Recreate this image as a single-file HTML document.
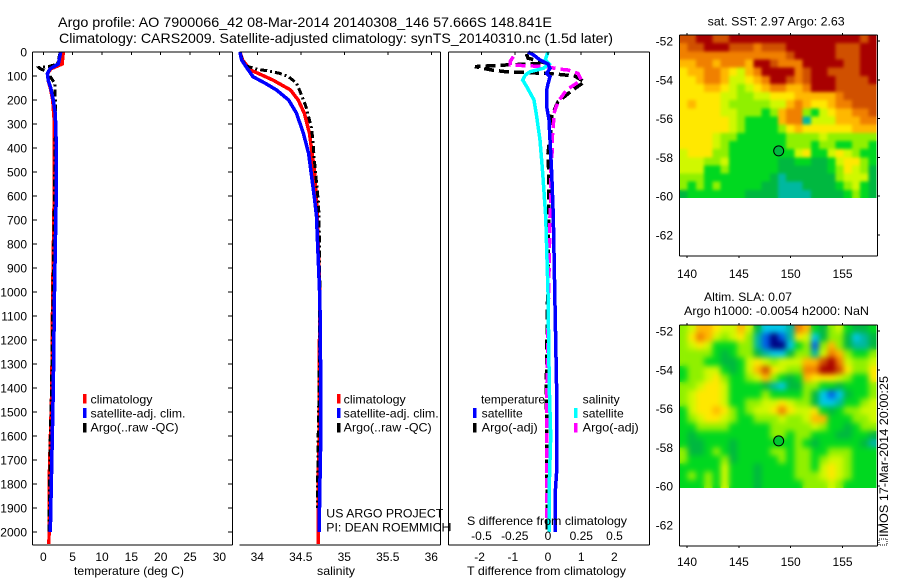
<!DOCTYPE html>
<html>
<head>
<meta charset="utf-8">
<title>Argo profile</title>
<style>
html,body{margin:0;padding:0;background:#fff;width:900px;height:580px;overflow:hidden;}
svg{display:block;font-family:"Liberation Sans",sans-serif;overflow:hidden;}
text{fill:#000;font-size:12px;}
</style>
</head>
<body>
<svg id="chart" xmlns="http://www.w3.org/2000/svg" width="900" height="580" viewBox="0 0 900 580">
<defs>
<filter id="blur-sst" x="660" y="20" width="240" height="200" filterUnits="userSpaceOnUse" color-interpolation-filters="sRGB"><feGaussianBlur stdDeviation="1.6"/></filter>
<filter id="blur-sla" x="660" y="310" width="240" height="200" filterUnits="userSpaceOnUse" color-interpolation-filters="sRGB"><feGaussianBlur stdDeviation="3"/></filter>
<clipPath id="clip-sst"><rect x="679.5" y="35" width="197" height="163"/></clipPath>
<clipPath id="clip-sla"><rect x="679.5" y="325" width="197" height="163"/></clipPath>
</defs>
<rect x="0" y="0" width="900" height="580" fill="#fff"/>
<g id="maps"></g>
<g id="series"></g>
<g id="axes"></g>

<text x="58" y="27" textLength="494" lengthAdjust="spacingAndGlyphs" style="font-size:14px">Argo profile: AO 7900066_42 08-Mar-2014 20140308_146 57.666S 148.841E</text>
<text x="59" y="43" textLength="554" lengthAdjust="spacingAndGlyphs" style="font-size:14px">Climatology: CARS2009. Satellite-adjusted climatology: synTS_20140310.nc (1.5d later)</text>

<text x="74" y="575" textLength="110" lengthAdjust="spacingAndGlyphs">temperature (deg C)</text>
<text x="317" y="575" textLength="38" lengthAdjust="spacingAndGlyphs">salinity</text>
<text x="467" y="575" textLength="159" lengthAdjust="spacingAndGlyphs">T difference from climatology</text>
<text x="467" y="525" textLength="160" lengthAdjust="spacingAndGlyphs">S difference from climatology</text>

<g>
<rect x="83" y="394" width="3.5" height="9.5" fill="#f00"/>
<rect x="83" y="408" width="3.5" height="10" fill="#00f"/>
<rect x="83" y="423" width="3.5" height="9.5" fill="#000"/>
<text x="90.5" y="403.5" textLength="62" lengthAdjust="spacingAndGlyphs">climatology</text>
<text x="90.5" y="417.5" textLength="95" lengthAdjust="spacingAndGlyphs">satellite-adj. clim.</text>
<text x="90.5" y="431.5" textLength="88" lengthAdjust="spacingAndGlyphs">Argo(..raw -QC)</text>
</g>
<g>
<rect x="337" y="394" width="3.5" height="9.5" fill="#f00"/>
<rect x="337" y="408" width="3.5" height="10" fill="#00f"/>
<rect x="337" y="423" width="3.5" height="9.5" fill="#000"/>
<text x="343.7" y="403.5" textLength="62" lengthAdjust="spacingAndGlyphs">climatology</text>
<text x="343.7" y="417.5" textLength="95" lengthAdjust="spacingAndGlyphs">satellite-adj. clim.</text>
<text x="343.7" y="431.5" textLength="88" lengthAdjust="spacingAndGlyphs">Argo(..raw -QC)</text>
</g>
<text x="326.3" y="517.7" textLength="117" lengthAdjust="spacingAndGlyphs">US ARGO PROJECT</text>
<text x="326.3" y="531.7" textLength="124" lengthAdjust="spacingAndGlyphs">PI: DEAN ROEMMICH</text>

<g>
<text x="481" y="403.5" textLength="64" lengthAdjust="spacingAndGlyphs">temperature</text>
<rect x="473" y="408" width="3.5" height="10" fill="#00f"/>
<text x="481.7" y="417.5" textLength="41" lengthAdjust="spacingAndGlyphs">satellite</text>
<rect x="473" y="423" width="3.5" height="9.5" fill="#000"/>
<text x="481.7" y="431.5" textLength="56" lengthAdjust="spacingAndGlyphs">Argo(-adj)</text>
<text x="582.7" y="403.5" textLength="37" lengthAdjust="spacingAndGlyphs">salinity</text>
<rect x="574" y="408" width="3.5" height="10" fill="#0ff"/>
<text x="582.7" y="417.5" textLength="41" lengthAdjust="spacingAndGlyphs">satellite</text>
<rect x="574" y="423" width="3.5" height="9.5" fill="#f0f"/>
<text x="582.7" y="431.5" textLength="56" lengthAdjust="spacingAndGlyphs">Argo(-adj)</text>
</g>

<text x="707.7" y="25.7" textLength="137" lengthAdjust="spacingAndGlyphs">sat. SST: 2.97 Argo: 2.63</text>
<text x="704" y="301" textLength="88" lengthAdjust="spacingAndGlyphs">Altim. SLA: 0.07</text>
<text x="684" y="315" textLength="185" lengthAdjust="spacingAndGlyphs">Argo h1000: -0.0054 h2000: NaN</text>
<rect x="879" y="539" width="8" height="6" fill="none" stroke="#000" stroke-width="1" stroke-dasharray="1 1"/>
<text transform="translate(888,537) rotate(-90)" x="0" y="0" textLength="161" lengthAdjust="spacingAndGlyphs">IMOS 17-Mar-2014 20:00:25</text>
</svg>

<script>
// ---- Profile data ----
const pressureTicks = [0,100,200,300,400,500,600,700,800,900,1000,1100,1200,1300,1400,1500,1600,1700,1800,1900,2000];
const tempTicks = [0,5,10,15,20,25,30];
const salTicks = [34,34.5,35,35.5,36];
const salTickLabels = ['34','34.5','35','35.5','36'];
const tDiffTicks = [-2,-1,0,1,2];
const sDiffTicks = [-0.5,-0.25,0,0.25,0.5];
const sDiffTickLabels = ['-0.5','-0.25','0','0.25','0.5'];
const lonTicks = [140,145,150,155];
const latTicks = [-52,-54,-56,-58,-60,-62];

const tempClimP = [0,50,70,90,120,150,200,300,400,600,1000,1400,1800,2050];
const tempClimV = [3.4,3.2,1.3,0.7,0.85,1.2,1.6,1.9,1.87,1.85,1.6,1.45,0.98,0.97];
const tempArgoP = [0,50,60,65,70,80,100,130,200,300,400,600,1000,1400,1600,2000];
const tempArgoV = [2.9,2.4,1.0,-0.7,-0.5,0.5,1.1,1.95,2.05,2.1,2.0,1.9,1.65,1.4,1.2,0.95];
const tempSatP = [0,50,70,90,120,150,200,250,300,400,600,1000,1400,1600,1800,2000];
const tempSatV = [2.96,2.56,1.14,0.7,0.85,1.26,1.7,2.0,2.11,2.22,2.2,1.9,1.7,1.53,1.37,1.2];

const salClimP = [0,33,75,89,117,158,200,255,339,422,505,617,686,1000,1400,1600,1800,2050];
const salClimV = [33.8,33.83,33.92,34.01,34.18,34.38,34.47,34.54,34.6,34.63,34.66,34.68,34.69,34.72,34.71,34.71,34.7,34.7];
const salArgoP = [0,33,58,72,78,89,103,130,172,228,311,367,422,505,617,686,1000,1400,1600,1900];
const salArgoV = [33.8,33.83,33.87,34.0,34.11,34.26,34.36,34.45,34.5,34.56,34.62,34.64,34.65,34.67,34.7,34.71,34.72,34.71,34.7,34.69];
const salSatP = [0,33,61,103,130,158,200,255,339,422,505,617,686,1033,1400,1600,1800,2000];
const salSatV = [33.8,33.82,33.87,33.95,34.09,34.22,34.36,34.45,34.53,34.59,34.62,34.66,34.68,34.72,34.73,34.73,34.72,34.71];

const tDiffArgoP = [8,26,47,54,61,75,82,89,93,100,124,158,207,262,311,422,505,686,1400,1600,2000];
const tDiffArgoV = [-0.65,-0.6,-0.04,-1.27,-2.2,-1.7,-1.27,-0.1,0.3,0.8,1.1,0.75,0.3,0.12,0.1,0,0.02,0.02,-0.05,-0.04,-0.02];
const sDiffArgoP = [19,40,54,61,71,75,89,117,158,207,255,311,367,422,505,617,686,1400,1800,1950];
const sDiffArgoV = [-0.26,-0.285,-0.285,-0.01,0.075,0.15,0.225,0.25,0.14,0.075,0.045,0.04,0.03,0.03,0.02,0.02,0.015,-0.008,-0.008,-0.008];
const sDiffSatP = [0,33,50,68,82,96,117,144,200,269,367,505,686,1000,1400,1600,1800,2000];
const sDiffSatV = [0,-0.02,0.01,-0.035,-0.135,-0.17,-0.19,-0.16,-0.105,-0.085,-0.06,-0.04,-0.017,0,0.01,0.02,0.01,0.01];
const tDiffSatP = [0,12,33,50,68,89,103,133,158,228,283,367,505,686,1400,1750,1850,2000];
const tDiffSatV = [-0.6,-0.44,-0.24,0,0.06,-0.04,0.06,0,-0.04,-0.04,0.03,0.06,0.11,0.16,0.26,0.26,0.21,0.21];

// ---- Map grids: colour-scale level per cell (0 navy ... 12 dark red) ----
const sstGrid = [
[11,11,12,12,11,11,12,12,12,12,12,12,12,12,12,12,12,12,12,12,12,12,11,12],
[10,11,11,12,12,12,11,11,11,10,11,11,11,12,12,12,12,12,12,11,11,11,12,12],
[10,10,10,10,10,10,10,10,10,10,10,10,10,11,12,12,12,12,12,11,11,11,12,12],
[9,9,10,10,9,10,10,10,9,12,12,11,10,10,10,12,12,12,12,12,11,11,12,12],
[8,9,9,10,10,9,8,7,9,10,12,12,12,12,10,11,12,12,11,11,11,11,12,12],
[8,8,9,10,10,9,7,7,8,9,10,12,12,11,10,11,12,12,12,11,11,11,11,12],
[8,8,8,9,9,8,7,6,7,8,9,10,10,9,9,10,12,12,12,11,11,11,11,11],
[8,8,8,8,8,7,7,6,6,7,7,8,8,8,9,9,9,9,9,10,11,11,11,11],
[8,9,8,8,8,7,6,6,6,6,6,7,7,9,10,9,8,8,9,10,10,11,11,11],
[8,8,8,8,8,7,7,6,6,6,5,6,9,10,10,6,5,7,8,9,9,10,10,11],
[8,8,8,8,8,8,7,6,5,5,5,5,9,10,10,3,7,7,7,9,9,9,10,10],
[8,8,8,8,8,8,7,6,5,5,5,5,6,8,9,8,8,8,8,8,8,9,9,9],
[8,8,8,8,7,6,6,5,5,5,5,5,5,6,6,6,6,7,6,6,6,6,6,6],
[8,8,8,8,7,6,5,5,5,5,5,5,5,6,6,6,5,6,6,5,5,6,6,5],
[7,8,8,8,6,6,5,5,5,5,5,5,5,5,7,8,5,5,7,8,7,6,5,5],
[7,7,7,6,6,7,5,5,5,5,5,5,4,4,5,5,4,4,5,7,8,8,6,5],
[7,7,7,5,5,6,5,5,5,5,5,5,4,4,4,4,4,4,5,6,8,7,6,4],
[6,6,6,5,5,5,5,5,5,5,5,4,3,4,4,4,4,4,4,6,7,7,7,4],
[6,5,6,5,6,5,5,5,5,5,4,4,3,3,3,4,4,4,4,5,6,7,5,4],
[4,5,5,5,5,5,5,5,4,4,4,4,3,3,3,3,4,4,4,4,5,6,5,4]
];
const slaGrid = [
[6,7,9,9,8,7,7,9,7,4,2,2,2,3,10,9,5,4,6,7,5,4,4,5],
[6,8,10,9,7,6,7,8,6,3,1,0,1,3,8,7,2,4,6,6,4,2,3,4],
[6,7,8,7,5,5,5,6,6,3,1,0,0,2,5,6,1,6,9,6,4,3,3,4],
[6,6,6,6,5,4,5,6,6,4,3,2,2,4,6,6,3,7,10,9,6,5,5,6],
[6,6,6,5,5,4,4,5,7,8,7,6,7,7,7,9,9,11,12,10,7,6,6,7],
[5,6,6,7,7,5,4,5,7,9,11,8,7,6,6,10,10,12,12,11,8,6,6,8],
[5,6,6,7,8,6,5,5,6,7,9,6,5,4,5,9,8,8,8,7,6,5,5,8],
[6,6,7,8,8,7,5,5,5,5,4,3,2,4,4,6,6,5,5,4,5,5,5,6],
[6,7,8,8,8,7,5,5,5,5,6,5,5,5,5,6,4,2,1,2,4,5,5,6],
[6,7,8,8,8,7,5,5,6,6,7,7,8,7,6,6,4,2,2,3,5,5,6,7],
[5,7,8,8,9,8,6,5,6,7,7,8,10,8,7,7,8,5,4,5,6,6,7,7],
[5,6,7,8,8,7,6,5,5,6,6,6,7,6,6,7,9,9,5,5,5,6,6,7],
[5,5,6,6,6,6,5,5,5,5,5,6,6,6,6,6,7,6,5,5,4,5,6,6],
[5,4,5,5,5,5,5,5,5,5,5,6,6,5,6,6,5,5,5,4,4,5,5,4],
[5,4,4,5,5,5,4,5,5,5,5,5,5,5,6,5,4,5,5,5,5,5,4,3],
[6,4,4,5,6,5,4,5,5,5,5,6,6,5,6,6,5,5,6,6,6,5,5,5],
[6,5,5,5,5,6,4,5,5,5,5,5,6,5,6,6,5,6,7,7,6,5,5,5],
[5,5,5,5,5,7,5,5,5,4,5,5,5,5,6,6,5,7,8,7,6,5,5,5],
[5,6,5,6,5,7,5,5,5,4,5,5,5,5,6,6,6,7,8,7,6,5,5,5],
[5,5,5,6,5,7,5,5,5,4,5,5,5,5,5,6,6,6,7,6,5,5,5,5]
];
const colourLevels = ['#000080','#0060e8','#00c8e8','#00b8a0','#00b840','#00d820','#90f000','#d0f800','#ffe800','#ffb800','#f08000','#d05000','#a80000'];
const floatLon = [148.841];
const floatLat = [-57.666];

// ---- Axis functions ----
const SVGNS = 'http://www.w3.org/2000/svg';
const yP = p => 52 + 0.24 * p;
const xTemp = t => 43.3 + 5.87 * t;
const xSal = s => 257.3 + 87 * (s - 34);
const xTDiff = t => 548 + 33.2 * t;
const xSDiff = s => 548 + 133 * s;
const xLon = l => 687 + (l - 140) * 10.37;
const ySst = l => 41 + (-52 - l) * 19.4;
const ySla = l => 331 + (-52 - l) * 19.4;

const seriesLayer = document.getElementById('series');
const axesLayer = document.getElementById('axes');
const mapsLayer = document.getElementById('maps');

function line(parent, name, x1, y1, x2, y2) {
  const el = document.createElementNS(SVGNS, 'line');
  
  
  el.setAttribute('x1', x1); el.setAttribute('y1', y1);
  el.setAttribute('x2', x2); el.setAttribute('y2', y2);
  el.setAttribute('stroke', '#000');
  el.setAttribute('stroke-width', '1');
  el.setAttribute('shape-rendering', 'crispEdges');
  parent.appendChild(el);
}
function label(parent, name, x, y, str, anchor) {
  const el = document.createElementNS(SVGNS, 'text');
  
  
  el.setAttribute('x', x); el.setAttribute('y', y);
  el.setAttribute('text-anchor', anchor);
  el.textContent = str;
  parent.appendChild(el);
}
function profile(name, fx, ps, vs, colour, width, dash) {
  const el = document.createElementNS(SVGNS, 'polyline');
  
  
  el.setAttribute('points', ps.map((p, i) => fx(vs[i]).toFixed(1) + ',' + yP(p).toFixed(1)).join(' '));
  el.setAttribute('fill', 'none');
  el.setAttribute('stroke', colour);
  el.setAttribute('stroke-width', width);
  if (dash) el.setAttribute('stroke-dasharray', dash);
  el.setAttribute('shape-rendering', 'crispEdges');
  seriesLayer.appendChild(el);
}

// ---- Series ----
profile('temperature-climatology-line', xTemp, tempClimP, tempClimV, '#f00', 3.5);
profile('temperature-argo-line', xTemp, tempArgoP, tempArgoV, '#000', 3, '7 3 2 3');
profile('temperature-satellite-line', xTemp, tempSatP, tempSatV, '#00f', 3.5);
profile('salinity-climatology-line', xSal, salClimP, salClimV, '#f00', 3.5);
profile('salinity-argo-line', xSal, salArgoP, salArgoV, '#000', 3, '7 3 2 3');
profile('salinity-satellite-line', xSal, salSatP, salSatV, '#00f', 3.5);
profile('t-difference-argo-line', xTDiff, tDiffArgoP, tDiffArgoV, '#000', 3.5, '10 5');
profile('s-difference-argo-line', xSDiff, sDiffArgoP, sDiffArgoV, '#f0f', 3.5, '10 5');
profile('s-difference-satellite-line', xSDiff, sDiffSatP, sDiffSatV, '#0ff', 3.5);
profile('t-difference-satellite-line', xTDiff, tDiffSatP, tDiffSatV, '#00f', 3.5);

// ---- Profile axes ----
line(axesLayer, 'temperature-panel-top', 32.5, 52, 232.5, 52);
line(axesLayer, 'temperature-panel-bottom', 32.5, 545, 232.5, 545);
line(axesLayer, 'temperature-panel-left', 32.5, 52, 32.5, 545);
line(axesLayer, 'temperature-panel-right', 232.5, 52, 232.5, 545);
line(axesLayer, 'salinity-panel-top', 239.5, 52, 440.5, 52);
line(axesLayer, 'salinity-panel-bottom', 239.5, 545, 440.5, 545);
line(axesLayer, 'salinity-panel-right', 440.5, 52, 440.5, 545);
line(axesLayer, 'difference-panel-top', 448.5, 52, 649.5, 52);
line(axesLayer, 'difference-panel-bottom', 448.5, 545, 649.5, 545);
line(axesLayer, 'difference-panel-left', 448.5, 52, 448.5, 545);
line(axesLayer, 'difference-panel-right', 649.5, 52, 649.5, 545);
line(axesLayer, 'difference-panel-stub-tick', 445, 527, 450, 527);
line(axesLayer, 'difference-panel-stub-bar', 450, 523, 450, 531);

pressureTicks.forEach(p => {
  line(axesLayer, 'pressure-tick-left', 32.5, yP(p), 37, yP(p));
  line(axesLayer, 'pressure-tick-right', 228, yP(p), 232.5, yP(p));
  label(axesLayer, 'pressure-tick-label', 27, yP(p) + 4.5, String(p), 'end');
});
tempTicks.forEach(t => {
  line(axesLayer, 'temperature-tick', xTemp(t), 52, xTemp(t), 55);
  label(axesLayer, 'temperature-tick-label', xTemp(t), 561, String(t), 'middle');
});
salTicks.forEach((s, i) => {
  line(axesLayer, 'salinity-tick', xSal(s), 52, xSal(s), 55);
  label(axesLayer, 'salinity-tick-label', xSal(s), 561, salTickLabels[i], 'middle');
});
tDiffTicks.forEach(t => {
  line(axesLayer, 't-difference-tick', xTDiff(t), 52, xTDiff(t), 55);
  label(axesLayer, 't-difference-tick-label', xTDiff(t) - (t < 0 ? 2 : 0), 561, String(t), 'middle');
});
sDiffTicks.forEach((s, i) => {
  label(axesLayer, 's-difference-tick-label', xSDiff(s), 540, sDiffTickLabels[i], 'middle');
});

// ---- Maps ----
function drawMap(prefix, shortId, grid, fy, topY, bottomY, labelY, markerFill) {
  const lonStart = 139.28;
  const lonStep = 197 / 10.37 / grid[0].length;
  const latStart = -52 + (fy(-52) - topY) / 19.4;
  const dataBottom = fy(-60) + 1.8;
  const latStep = (dataBottom - topY) / 19.4 / grid.length;

  const clipGroup = document.createElementNS(SVGNS, 'g');
  
  
  clipGroup.setAttribute('clip-path', 'url(#clip-' + shortId + ')');
  mapsLayer.appendChild(clipGroup);

  const cells = document.createElementNS(SVGNS, 'g');
  cells.setAttribute('id', 'cells-' + shortId);
  
  
  clipGroup.appendChild(cells);

  grid.forEach((row, r) => {
    row.forEach((lvl, c) => {
      const el = document.createElementNS(SVGNS, 'rect');
      
      
      const x0 = xLon(lonStart + c * lonStep);
      const x1 = xLon(lonStart + (c + 1) * lonStep);
      const y0 = fy(latStart - r * latStep);
      const y1 = fy(latStart - (r + 1) * latStep);
      el.setAttribute('x', x0.toFixed(2));
      el.setAttribute('y', y0.toFixed(2));
      el.setAttribute('width', (x1 - x0 + 0.4).toFixed(2));
      el.setAttribute('height', (y1 - y0 + 0.4).toFixed(2));
      el.setAttribute('fill', colourLevels[lvl]);
      el.setAttribute('shape-rendering', 'crispEdges');
      cells.appendChild(el);
    });
  });

  const smooth = document.createElementNS(SVGNS, 'use');
  
  
  smooth.setAttribute('href', '#cells-' + shortId);
  smooth.setAttribute('filter', 'url(#blur-' + shortId + ')');
  clipGroup.appendChild(smooth);

  const mk = document.createElementNS(SVGNS, 'circle');
  
  
  mk.setAttribute('cx', xLon(floatLon[0]));
  mk.setAttribute('cy', fy(floatLat[0]));
  mk.setAttribute('r', '5');
  mk.setAttribute('fill', markerFill);
  mk.setAttribute('stroke', '#000');
  mk.setAttribute('stroke-width', '1');
  axesLayer.appendChild(mk);
  line(axesLayer, prefix + '-top', 679.5, topY, 877.5, topY);
  line(axesLayer, prefix + '-left', 679.5, topY, 679.5, bottomY);
  line(axesLayer, prefix + '-right', 877.5, topY, 877.5, bottomY);
  line(axesLayer, prefix + '-bottom', 679.5, bottomY, 877.5, bottomY);
  lonTicks.forEach(l => {
    line(axesLayer, prefix + '-lon-tick', xLon(l), topY - 2, xLon(l), topY);
    line(axesLayer, prefix + '-lon-tick-bottom', xLon(l), bottomY, xLon(l), bottomY + 2);
    label(axesLayer, prefix + '-lon-label', xLon(l), labelY, String(l), 'middle');
  });
  latTicks.forEach(l => {
    line(axesLayer, prefix + '-lat-tick', 877.5, fy(l), 880, fy(l));
    label(axesLayer, prefix + '-lat-label', 673, fy(l) + 4.5, String(l), 'end');
  });
}
drawMap('sst-map', 'sst', sstGrid, ySst, 35, 256, 278, '#00b840');
drawMap('sla-map', 'sla', slaGrid, ySla, 325, 546, 566, '#00c830');
</script>
</body>
</html>
